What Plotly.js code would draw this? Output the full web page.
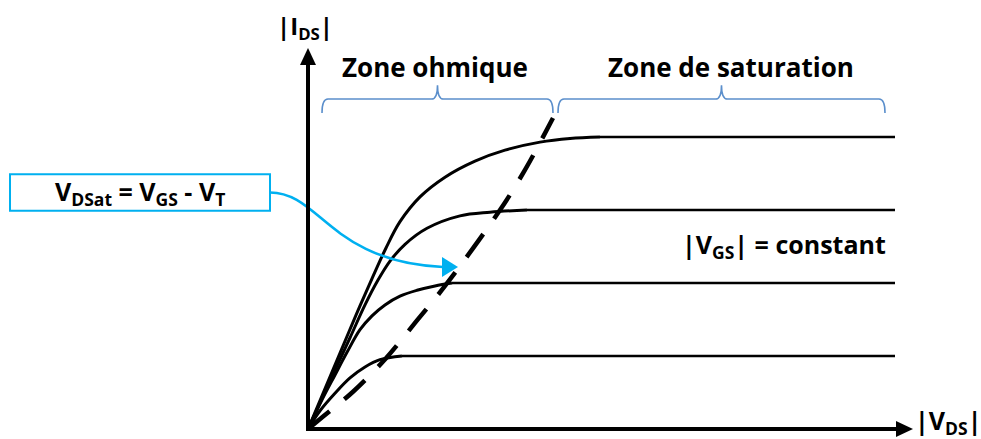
<!DOCTYPE html>
<html>
<head>
<meta charset="utf-8">
<script src="https://cdn.plot.ly/plotly-3.0.1.min.js"></script>
<style>
  html, body { margin: 0; padding: 0; background: #ffffff; }
  #chart { width: 981px; height: 439px; }
</style>
</head>
<body>
<div id="chart"></div>
<script>
// Output characteristics |I_DS| = f(|V_DS|) of a MOSFET, one curve per |V_GS|.
// |V_DS| is in arbitrary units, |I_DS| in units of the lowest plateau current.

// Plateau (saturation) current of each curve
const I_SAT = [4, 3, 2, 1];

// Ohmic part of each curve, up to where it joins its plateau
const CURVE_A_VDS = [0, 1.6, 3.2, 4.8, 6.4, 7.8, 9.2, 11.2, 13.7, 16.7, 19.7, 23.2, 26.2, 29.2];
const CURVE_A_IDS = [0, 0.52, 1.04, 1.56, 2.06, 2.48, 2.84, 3.18, 3.45, 3.67, 3.82, 3.93, 3.98, 4.0];

const CURVE_B_VDS = [0, 2.2, 4.2, 5.7, 7.0, 8.2, 9.7, 11.9, 15.2, 18.2, 21.9];
const CURVE_B_IDS = [0, 0.66, 1.25, 1.70, 2.04, 2.30, 2.53, 2.75, 2.92, 2.97, 3.0];

const CURVE_C_VDS = [0, 1.4, 2.7, 3.9, 5.2, 6.4, 7.7, 9.2, 10.9, 12.7, 14.4];
const CURVE_C_IDS = [0, 0.40, 0.74, 1.05, 1.36, 1.55, 1.70, 1.82, 1.90, 1.96, 2.0];

const CURVE_D_VDS = [0, 1.2, 2.7, 4.2, 5.7, 7.2, 9.4];
const CURVE_D_IDS = [0, 0.25, 0.49, 0.70, 0.85, 0.95, 1.0];

// Last |V_DS| drawn on the plateaus
const VDS_END = 58.7;

// Locus of the saturation points, V_DSat = V_GS - V_T
const VDSAT_VDS = [0, 1.6, 4.5, 7.8, 10.8, 13.7, 19.2, 21.7, 24.5];
const VDSAT_IDS = [0, 0.18, 0.51, 0.97, 1.47, 1.96, 3.0, 3.55, 4.26];

// Operating regions along |V_DS|
const ZONE_NAMES = ['Zone ohmique', 'Zone de saturation'];
const ZONE_FROM = [1.4, 25.0];
const ZONE_TO = [24.5, 57.7];

// Text
const Y_TITLE = '|I<sub>DS</sub>|';
const X_TITLE = '|V<sub>DS</sub>|';
const VGS_NOTE = '|V<sub>GS</sub>| = constant';
const VDSAT_NOTE = 'V<sub>DSat</sub> = V<sub>GS</sub> - V<sub>T</sub>';

// ---------------------------------------------------------------------------
const FONT = '"Open Sans", "Noto Sans", sans-serif';
const BLACK = '#000000';
const CYAN = '#00b0f0';
const BRACE = '#5b8fcc';

// plot scale: 10 px per |V_DS| unit, 73 px per |I_DS| unit, origin at (308, 429)
const X_RANGE = [-30.8, 67.3];
const Y_RANGE = [-0.137, 5.877];
const PX_X = 0.1;        // one pixel along x, in data units
const PX_Y = 1 / 73;     // one pixel along y, in data units

const ohmic = [
  [CURVE_A_VDS, CURVE_A_IDS],
  [CURVE_B_VDS, CURVE_B_IDS],
  [CURVE_C_VDS, CURVE_C_IDS],
  [CURVE_D_VDS, CURVE_D_IDS]
];

const traces = [];
ohmic.forEach(([vds, ids], i) => {
  traces.push({
    x: vds, y: ids, mode: 'lines', hoverinfo: 'skip',
    line: { color: BLACK, width: 3, shape: 'spline', smoothing: 1 }
  });
  traces.push({
    x: [vds[vds.length - 1], VDS_END], y: [I_SAT[i], I_SAT[i]],
    mode: 'lines', hoverinfo: 'skip',
    line: { color: BLACK, width: 2.6 }
  });
});
traces.push({
  x: VDSAT_VDS, y: VDSAT_IDS, mode: 'lines', hoverinfo: 'skip',
  line: { color: BLACK, width: 4.5, dash: '28px,19px', shape: 'spline', smoothing: 1 }
});

// curly brace above a |V_DS| interval
function bracePath(x0, x1) {
  const yBase = 4.52, yEnd = 4.33, yTip = 4.71, r = 6 * PX_X;
  const xm = (x0 + x1) / 2;
  return `M${x0},${yEnd} Q${x0},${yBase} ${x0 + r},${yBase} ` +
         `L${xm - r},${yBase} Q${xm},${yBase} ${xm},${yTip} ` +
         `Q${xm},${yBase} ${xm + r},${yBase} L${x1 - r},${yBase} ` +
         `Q${x1},${yBase} ${x1},${yEnd}`;
}

// callout box and its curved pointer towards the V_DSat locus
const box = { x0: -29.8, x1: -3.8, y0: 2.99, y1: 3.49 };
const boxMidY = (box.y0 + box.y1) / 2;
const tip = { x: 15.0, y: 2.22 };
const headLen = 16 * PX_X, headHalf = 10 * PX_Y;

const shapes = [];
shapes.push({
  type: 'path', xref: 'x', yref: 'y',
  path: `M${box.x1},${boxMidY} C${box.x1 + 5},${boxMidY} ${box.x1 + 6},${tip.y + 0.07} ${tip.x - headLen + 0.1},${tip.y}`,
  line: { color: CYAN, width: 2.6 }
});
shapes.push({
  type: 'path', xref: 'x', yref: 'y',
  path: `M${tip.x},${tip.y} L${tip.x - headLen},${tip.y + headHalf} L${tip.x - headLen},${tip.y - headHalf} Z`,
  fillcolor: CYAN, line: { width: 0 }
});
shapes.push({
  type: 'rect', xref: 'x', yref: 'y',
  x0: box.x0, x1: box.x1, y0: box.y0, y1: box.y1,
  line: { color: CYAN, width: 2 }, fillcolor: '#ffffff'
});
ZONE_NAMES.forEach((_, i) => {
  shapes.push({
    type: 'path', xref: 'x', yref: 'y',
    path: bracePath(ZONE_FROM[i], ZONE_TO[i]),
    line: { color: BRACE, width: 1.6 }
  });
});

// axes with arrow heads
const yAxisTip = 5.22, xAxisTip = 60.5;
const arrowLen = 17, arrowHalf = 8;
shapes.push({
  type: 'line', xref: 'x', yref: 'y',
  x0: 0, x1: 0, y0: -2 * PX_Y, y1: yAxisTip - (arrowLen - 2) * PX_Y,
  line: { color: BLACK, width: 4 }
});
shapes.push({
  type: 'path', xref: 'x', yref: 'y',
  path: `M0,${yAxisTip} L${-arrowHalf * PX_X},${yAxisTip - arrowLen * PX_Y} L${arrowHalf * PX_X},${yAxisTip - arrowLen * PX_Y} Z`,
  fillcolor: BLACK, line: { width: 0 }
});
shapes.push({
  type: 'line', xref: 'x', yref: 'y',
  x0: -2 * PX_X, x1: xAxisTip - (arrowLen - 2) * PX_X, y0: 0, y1: 0,
  line: { color: BLACK, width: 4 }
});
shapes.push({
  type: 'path', xref: 'x', yref: 'y',
  path: `M${xAxisTip},0 L${xAxisTip - arrowLen * PX_X},${arrowHalf * PX_Y} L${xAxisTip - arrowLen * PX_X},${-arrowHalf * PX_Y} Z`,
  fillcolor: BLACK, line: { width: 0 }
});

function label(text, x, y, size) {
  return {
    text: '<b>' + text + '</b>', x, y, xref: 'x', yref: 'y',
    showarrow: false, xanchor: 'center', yanchor: 'middle',
    font: { family: FONT, size, color: BLACK }
  };
}

const annotations = [
  label(Y_TITLE, -0.3, 5.51, 24),
  label(X_TITLE, 64.0, 0.10, 25),
  label(ZONE_NAMES[0], 12.7, 4.96, 26),
  label(ZONE_NAMES[1], 42.3, 4.96, 26),
  label(VGS_NOTE, 47.6, 2.52, 25),
  label(VDSAT_NOTE, (box.x0 + box.x1) / 2, boxMidY, 25)
];

const layout = {
  width: 981, height: 439,
  margin: { l: 0, r: 0, t: 0, b: 0, pad: 0 },
  paper_bgcolor: '#ffffff', plot_bgcolor: '#ffffff',
  showlegend: false,
  font: { family: FONT, color: BLACK },
  xaxis: { range: X_RANGE, visible: false, fixedrange: true },
  yaxis: { range: Y_RANGE, visible: false, fixedrange: true },
  shapes, annotations
};

Plotly.newPlot('chart', traces, layout, { displayModeBar: false, staticPlot: true });
</script>
</body>
</html>
